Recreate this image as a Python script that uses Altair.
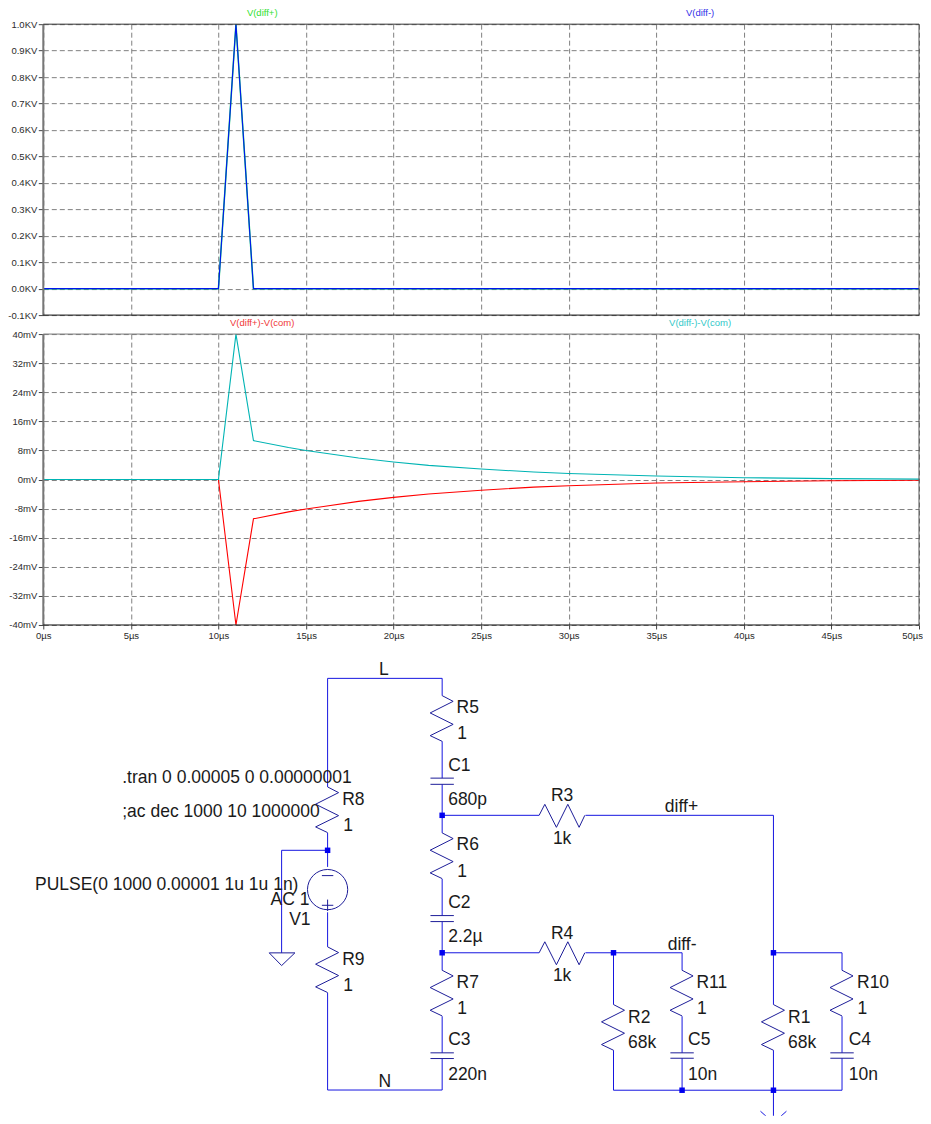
import altair as alt
import pandas as pd

# ---------- waveform values ----------
T_PULSE = [0, 10, 11, 12, 50]
V_DIFF_PLUS = [0, 0, 1.0, 0, 0]
V_DIFF_MINUS = [0, 0, 1.0, 0, 0]

T_DEC = [0, 10, 11, 12, 14, 15, 16, 18, 20, 22, 25, 28, 30, 35, 40, 45, 50]
V_TEAL = [0, 0, 40, 10.7, 8.8, 8.0, 7.3, 5.9, 4.8, 3.9, 2.9, 2.05, 1.65, 0.95, 0.5, 0.25, 0.12]
V_RED = [0, 0, -40, -10.8, -8.9, -8.1, -7.4, -6.0, -4.9, -4.0, -2.95, -2.1, -1.7, -0.95, -0.6, -0.35, -0.2]

X_TICKS = [0, 5, 10, 15, 20, 25, 30, 35, 40, 45, 50]
Y1_TICKS = [-0.1, 0.0, 0.1, 0.2, 0.3, 0.4, 0.5, 0.6, 0.7, 0.8, 0.9, 1.0]
Y2_TICKS = [-40, -32, -24, -16, -8, 0, 8, 16, 24, 32, 40]

# ---------- schematic, in sheet units ----------
WIRES = [
    (327.7, 678.7, 442.3, 678.7), (327.7, 678.7, 327.7, 787.3), (442.3, 678.7, 442.3, 696),
    (442.3, 741.7, 442.3, 778.5), (442.3, 784.7, 442.3, 833.3), (442.3, 879.3, 442.3, 916),
    (442.3, 922, 442.3, 970.7), (442.3, 1016.7, 442.3, 1053.3), (442.3, 1059, 442.3, 1090.5),
    (327.7, 1090.5, 442.3, 1090.5), (327.7, 993.3, 327.7, 1090.5), (327.7, 833.3, 327.7, 867.3),
    (327.7, 912.7, 327.7, 947.3), (281.7, 850.7, 327.7, 850.7), (281.7, 850.7, 281.7, 953.3),
    (442.3, 815.7, 539.3, 815.7), (585.7, 815.7, 773.7, 815.7), (773.7, 815.7, 773.7, 1005),
    (773.7, 1050.7, 773.7, 1090.7), (442.3, 953.2, 539.3, 953.2), (585.7, 953.2, 682.3, 953.2),
    (682.3, 953.2, 682.3, 970.7), (613.7, 953.2, 613.7, 1005), (613.7, 1050.7, 613.7, 1090.7),
    (613.7, 1090.7, 842.3, 1090.7), (682.3, 1016.7, 682.3, 1053.3), (682.3, 1058.7, 682.3, 1090.7),
    (773.7, 953.2, 842.3, 953.2), (842.3, 953.2, 842.3, 970.7), (842.3, 1016.7, 842.3, 1053.3),
    (842.3, 1058.7, 842.3, 1090.7),
]
GROUND_WIRE = [(773.7, 1090.7, 773.7, 1123)]
V_RES = [(442.3, 696), (442.3, 833.3), (442.3, 970.7), (327.7, 787.3), (327.7, 947.3),
         (613.7, 1005), (773.7, 1005), (682.3, 970.7), (842.3, 970.7)]
H_RES = [(539.3, 815.7), (539.3, 953.2)]
ZIG_ALONG = [0, 5.7, 17.3, 28.7, 40, 45.7]
ZIG_ACROSS = [0, 11, -12, 11, -12, 0]
CAPS = [(442.3, 778.5), (442.3, 784.7), (442.3, 916), (442.3, 922), (442.3, 1053.3), (442.3, 1059),
        (682.3, 1053.3), (682.3, 1058.7), (842.3, 1053.3), (842.3, 1058.7)]
CAP_HALF = 11.7
NODES = [(442.3, 815.7), (442.3, 953.2), (327.7, 850.7), (613.7, 953.2), (773.7, 953.2),
         (682.3, 1090.7), (773.7, 1090.7)]
GROUND_A = [(269.3, 953.3), (295, 953.3), (281.7, 966), (269.3, 953.3)]
GROUND_B = [(760.7, 1111.7), (773.7, 1123.3), (786.7, 1111.7)]
SOURCE = [(327.7, 890)]
SOURCE_SIGNS = [(322, 876, 333.4, 876), (322, 905.7, 333.4, 905.7), (327.7, 900, 327.7, 911.4)]

LABELS_LEFT = [
    ("R5", 456.7, 707.3), ("1", 457.3, 733.3), ("C1", 448.3, 765), ("680p", 448.3, 799.3),
    ("R6", 456.7, 844.3), ("1", 457.3, 870.7), ("C2", 448.3, 901.7), ("2.2µ", 448.3, 936),
    ("R7", 456.7, 981.7), ("1", 457.3, 1008.3), ("C3", 448.3, 1039), ("220n", 448.3, 1074),
    ("R8", 342.3, 799), ("1", 343.3, 825), ("R9", 342.3, 959), ("1", 343.3, 985),
    ("R11", 696.7, 981.7), ("1", 697.3, 1008.3), ("C5", 688.3, 1039), ("10n", 688.3, 1074.3),
    ("R2", 628.3, 1017.3), ("68k", 628.3, 1041.7), ("R1", 788.3, 1017.3), ("68k", 788.3, 1041.7),
    ("R10", 857.3, 981.7), ("1", 857.7, 1008.3), ("C4", 849, 1039), ("10n", 849, 1074.3),
    (".tran 0 0.00005 0 0.00000001", 122.3, 776.7), (";ac dec 1000 10 1000000", 122.3, 811),
    ("PULSE(0 1000 0.00001 1u 1u 1n)", 35, 884), ("AC 1", 270.7, 899), ("V1", 289.3, 919.3),
]
LABELS_CENTER = [
    ("L", 384, 669.3), ("N", 385, 1080.7), ("R3", 562.3, 795), ("1k", 562.3, 837.7),
    ("R4", 562.3, 932.7), ("1k", 562.3, 975), ("diff+", 681.7, 805.7), ("diff-", 682.3, 944.3),
]

FONT = "Liberation Sans"
W = 876
H = 291
GRID = "#808080"
TICK_TXT = "#2b2b2b"
WIRE = "#1515e0"
PART = "#1c1c98"


def panel(series, y_ticks, y_dom, y_expr, show_x, top_color, titles):
    x_axis = alt.Axis(values=X_TICKS, grid=True, gridColor=GRID, gridDash=[5, 3], gridWidth=1,
                      domain=False, ticks=show_x, tickSize=4, tickColor="#444",
                      labels=show_x, labelExpr="datum.value+'µs'", labelFont=FONT, labelFontSize=9.5,
                      labelColor=TICK_TXT, labelPadding=2, labelFlush=False, labelOverlap=False,
                      labelBound=False, title=None,
                      labelOffset=alt.condition("datum.value==50", alt.value(-7), alt.value(0)))
    y_axis = alt.Axis(values=y_ticks, grid=True, gridColor=GRID, gridDash=[5, 3], gridWidth=1,
                      domain=False, ticks=True, tickSize=5, tickColor="#444",
                      labelExpr=y_expr, labelFont=FONT, labelFontSize=9.5, labelColor=TICK_TXT,
                      labelPadding=1.5, labelFlush=False, labelOverlap=False, labelBound=False, title=None)
    xs = alt.Scale(domain=[0, 50], nice=False, zero=False)
    ys = alt.Scale(domain=y_dom, nice=False, zero=False)
    x = alt.X("t:Q", scale=xs, axis=x_axis, title=None)
    y = alt.Y("v:Q", scale=ys, axis=y_axis, title=None)
    layers = []
    for ts, vs, col, wid, op in series:
        d = pd.DataFrame({"t": ts, "v": vs})
        layers.append(alt.Chart(d).mark_line(color=col, strokeWidth=wid, opacity=op, clip=False, interpolate="linear")
                      .encode(x=x, y=y))
    frame = [("x", [0], "#777777", 2), ("x", [50], "#555555", 1),
             ("y", [y_dom[1]], top_color, 1), ("y", [y_dom[0]], "#111111", 1)]
    for ch, val, col, wid in frame:
        if ch == "x":
            layers.append(alt.Chart(pd.DataFrame({"t": val})).mark_rule(color=col, strokeWidth=wid).encode(x=x))
        else:
            layers.append(alt.Chart(pd.DataFrame({"v": val})).mark_rule(color=col, strokeWidth=wid).encode(y=y))
    for txt, t, col in titles:
        d = pd.DataFrame({"t": [t], "v": [y_dom[1]], "s": [txt]})
        layers.append(alt.Chart(d).mark_text(font=FONT, fontSize=9.5, color=col, dy=-11.5, align="center",
                                             baseline="middle").encode(x=x, y=y, text="s:N"))
    return alt.layer(*layers).properties(width=W, height=H)


p1 = panel(
    [(T_PULSE, V_DIFF_PLUS, "#00d060", 1.5, 1), (T_PULSE, V_DIFF_MINUS, "#0000ff", 1.1, 0.9)],
    Y1_TICKS, [-0.1, 1.0], "(datum.value<-0.001?'-':'')+format(abs(datum.value),'.1f')+'KV'",
    False, "#333333", [("V(diff+)", 12.5, "#30e030"), ("V(diff-)", 37.5, "#3030e8")],
)
p2 = panel(
    [(T_DEC, V_RED, "#ff0000", 1.1, 1), (T_DEC, V_TEAL, "#00b4b4", 1.1, 1)],
    Y2_TICKS, [-40, 40], "datum.value+'mV'",
    True, "#777777", [("V(diff+)-V(com)", 12.5, "#f03838"), ("V(diff-)-V(com)", 37.5, "#30c8c8")],
)

# ---------- schematic panel ----------
SX = alt.Scale(domain=[43.3, 919.3], nice=False, zero=False)
SY = alt.Scale(domain=[644.3, 1116.3], nice=False, zero=False, reverse=True)
ex = alt.X("x:Q", scale=SX, axis=None)
ey = alt.Y("y:Q", scale=SY, axis=None)
ex2 = alt.X2("x2:Q")
ey2 = alt.Y2("y2:Q")

wires = pd.DataFrame(WIRES, columns=["x", "y", "x2", "y2"])
wire_l = alt.Chart(wires).mark_rule(color=WIRE, strokeWidth=1).encode(x=ex, y=ey, x2=ex2, y2=ey2)
gw = pd.DataFrame(GROUND_WIRE, columns=["x", "y", "x2", "y2"])
gw_l = alt.Chart(gw).mark_rule(color=WIRE, strokeWidth=1, clip=True).encode(x=ex, y=ey, x2=ex2, y2=ey2)

zig = []
pid = 0
for rx, ry in V_RES:
    for i, (a, c) in enumerate(zip(ZIG_ALONG, ZIG_ACROSS)):
        zig.append({"id": pid, "i": i, "x": rx + c, "y": ry + a})
    pid += 1
for rx, ry in H_RES:
    for i, (a, c) in enumerate(zip(ZIG_ALONG, ZIG_ACROSS)):
        zig.append({"id": pid, "i": i, "x": rx + a, "y": ry - c})
    pid += 1
for i, (gx, gy) in enumerate(GROUND_A):
    zig.append({"id": pid, "i": i, "x": gx, "y": gy})
zig = pd.DataFrame(zig)
zig_l = alt.Chart(zig).mark_line(color=PART, strokeWidth=1).encode(
    x=ex, y=ey, detail="id:N", order="i:Q")
gb = pd.DataFrame(GROUND_B, columns=["x", "y"]).assign(i=[0, 1, 2])
gb_l = alt.Chart(gb).mark_line(color=WIRE, strokeWidth=1, clip=True).encode(x=ex, y=ey, order="i:Q")

caps = pd.DataFrame([(cx - CAP_HALF, cy, cx + CAP_HALF, cy) for cx, cy in CAPS],
                    columns=["x", "y", "x2", "y2"])
cap_l = alt.Chart(caps).mark_rule(color=PART, strokeWidth=1).encode(x=ex, y=ey, x2=ex2, y2=ey2)
signs = pd.DataFrame(SOURCE_SIGNS, columns=["x", "y", "x2", "y2"])
sign_l = alt.Chart(signs).mark_rule(color=PART, strokeWidth=1).encode(x=ex, y=ey, x2=ex2, y2=ey2)
src = pd.DataFrame(SOURCE, columns=["x", "y"])
src_l = alt.Chart(src).mark_point(shape="circle", size=1619, filled=False, color=PART, strokeWidth=1, opacity=1).encode(x=ex, y=ey)
nodes = pd.DataFrame(NODES, columns=["x", "y"])
node_l = alt.Chart(nodes).mark_square(color="#0000f0", size=30, opacity=1).encode(x=ex, y=ey)
tl = pd.DataFrame(LABELS_LEFT, columns=["s", "x", "y"])
tc = pd.DataFrame(LABELS_CENTER, columns=["s", "x", "y"])
txt_l = alt.Chart(tl).mark_text(font=FONT, fontSize=17.5, dy=1.5, color="#1a1a1a", align="left", baseline="middle").encode(x=ex, y=ey, text="s:N")
txt_c = alt.Chart(tc).mark_text(font=FONT, fontSize=17.5, dy=1.5, color="#1a1a1a", align="center", baseline="middle").encode(x=ex, y=ey, text="s:N")

p3 = alt.layer(wire_l, gw_l, zig_l, gb_l, cap_l, src_l, sign_l, node_l, txt_l, txt_c).properties(width=W, height=472)

chart = (
    alt.vconcat(p1, p2, p3, spacing=19, bounds="flush")
    .resolve_scale(x="independent", y="independent")
    .configure_view(stroke=None)
    .properties(padding={"left": -0.7, "top": -1, "right": 0, "bottom": 0}, background="white")
)
chart.save("out.html", embed_options={"renderer": "svg", "actions": False})
